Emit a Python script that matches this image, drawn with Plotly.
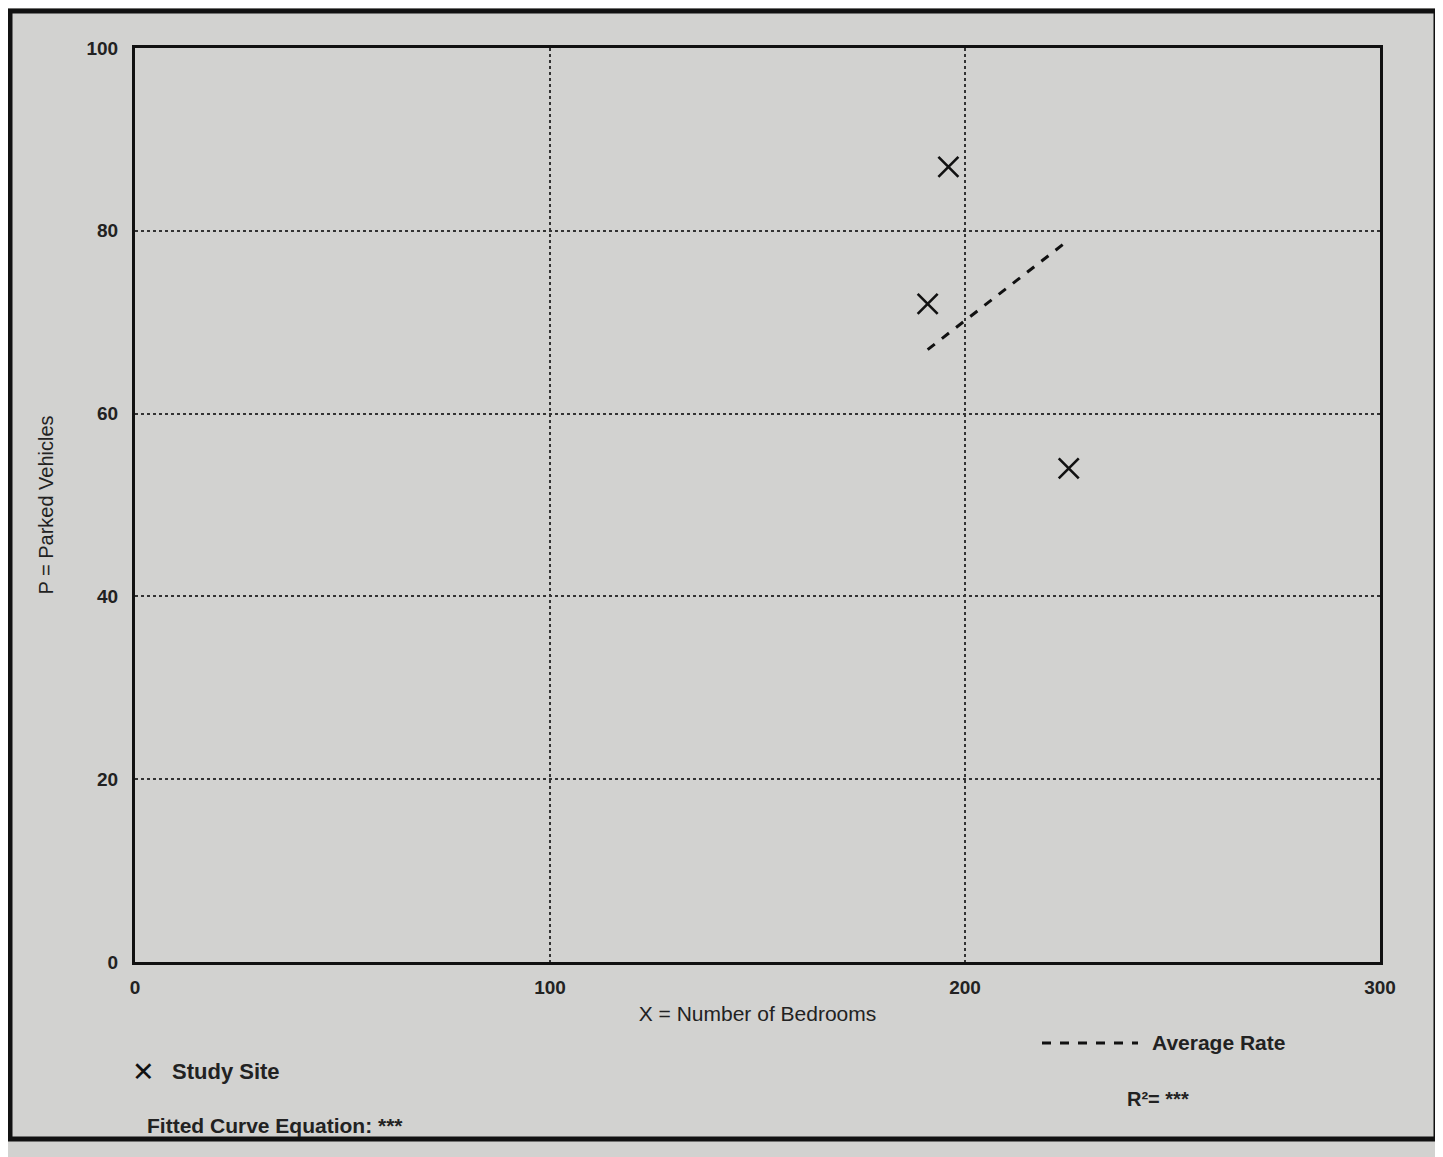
import plotly.graph_objects as go

# ---- data ----
site_x = [196, 191, 225]
site_y = [87, 72, 54]
avg_x = [191, 225]
avg_y = [67, 79]
x_ticks = [0, 100, 200, 300]
y_ticks = [0, 20, 40, 60, 80, 100]

O = 8  # default page body margin
W, H = 1443 - O, 1157 - O
# plot area in page pixels
L, R, T, B = 135, 1380, 48, 962
bg = "#d2d2d0"
font = "Liberation Sans, Arial, sans-serif"


def px(x):
    return (x - L) / (R - L)


def py(y):
    return (B - y) / (B - T)


fig = go.Figure()
fig.add_trace(go.Scatter(
    x=site_x, y=site_y, mode="markers", name="Study Site",
    marker=dict(symbol="x-thin", size=20, line=dict(width=2.6, color="#111")),
    showlegend=False))
fig.add_trace(go.Scatter(
    x=avg_x, y=avg_y, mode="lines", name="Average Rate",
    line=dict(color="#111", width=3, dash="dash"), showlegend=False))

axis_common = dict(
    showline=True, linewidth=3, linecolor="#111", mirror=True,
    showgrid=True, gridcolor="#333", griddash="dot", gridwidth=1.6,
    zeroline=False, ticks="", tickfont=dict(family=font, size=19, color="#222"),
)
fig.update_xaxes(range=[0, 300], tickvals=x_ticks,
                 ticktext=[f"<b>{v}</b>" for v in x_ticks],
                 ticklabelstandoff=6,
                 title=dict(text="X = Number of Bedrooms", font=dict(family=font, size=21, color="#222"), standoff=10),
                 **axis_common)
fig.update_yaxes(range=[0, 100], tickvals=y_ticks,
                 ticktext=[f"<b>{v}</b>" for v in y_ticks],
                 ticklabelstandoff=10,
                 title=dict(text="P = Parked Vehicles", font=dict(family=font, size=20, color="#222"), standoff=28),
                 **axis_common)

shapes = [
    dict(type="rect", xref="paper", yref="paper",
         x0=px(10), x1=px(1436), y0=py(1139), y1=py(11),
         line=dict(color="#111", width=5), fillcolor="rgba(0,0,0,0)", layer="below"),
    dict(type="line", xref="paper", yref="paper",
         x0=px(1042), x1=px(1138), y0=py(1043), y1=py(1043),
         line=dict(color="#111", width=3, dash="dash")),
]

ann = [
    dict(x=px(143), y=py(1071), text="✕", font=dict(family="DejaVu Sans", size=27, color="#111")),
    dict(x=px(170), y=py(1071), text="<b>Study Site</b>", xanchor="left", font=dict(family=font, size=22, color="#222")),
    dict(x=px(145), y=py(1125), text="<b>Fitted Curve Equation: ***</b>", xanchor="left", font=dict(family=font, size=21, color="#222")),
    dict(x=px(1150), y=py(1042), text="<b>Average Rate</b>", xanchor="left", font=dict(family=font, size=21, color="#222")),
    dict(x=px(1125), y=py(1099), text="<b>R²= ***</b>", xanchor="left", font=dict(family=font, size=20, color="#222")),
]
for a in ann:
    a.update(xref="paper", yref="paper", showarrow=False, yanchor="middle")
    a.setdefault("xanchor", "center")

fig.update_layout(
    width=W, height=H,
    margin=dict(l=L - O, r=(W + O) - R, t=T - O, b=(H + O) - B),
    paper_bgcolor=bg, plot_bgcolor=bg,
    shapes=shapes, annotations=ann, showlegend=False,
)
fig.write_html("out.html")
